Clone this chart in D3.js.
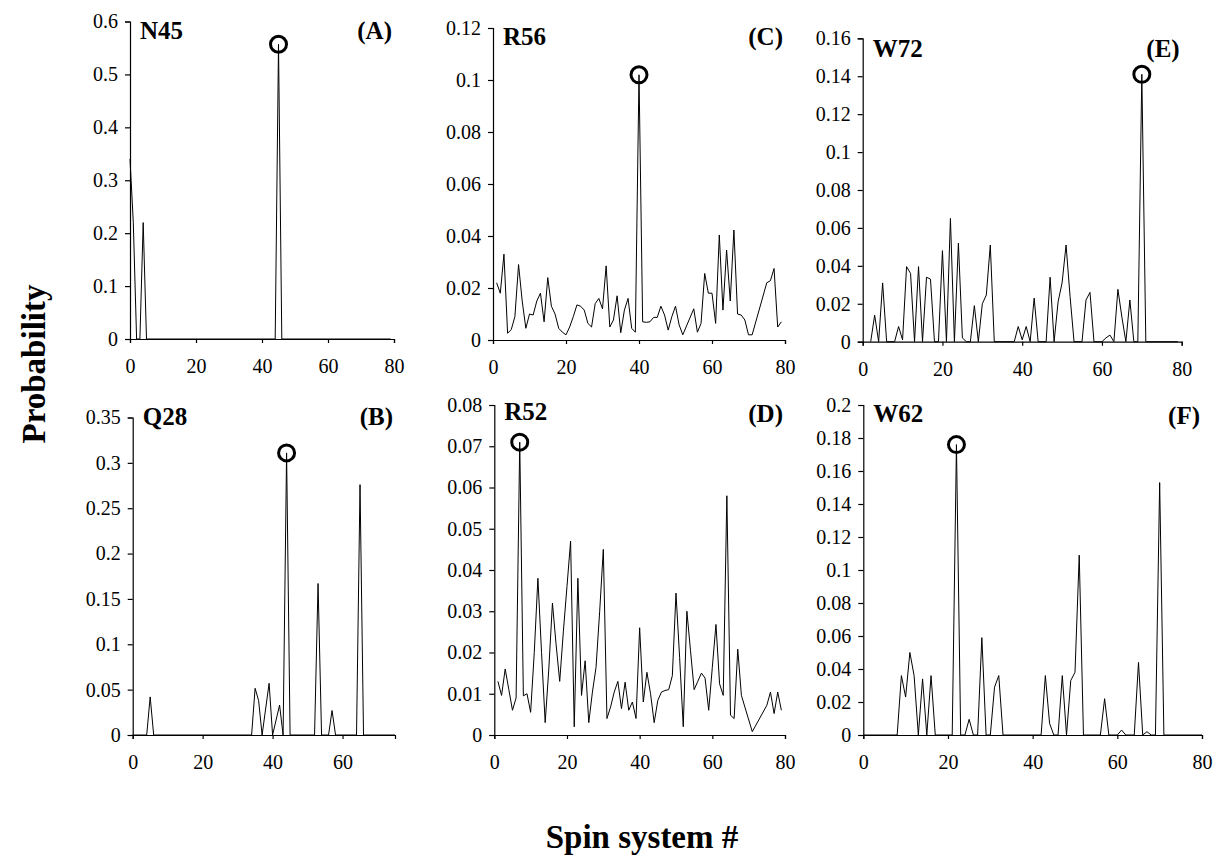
<!DOCTYPE html>
<head>
<meta charset="utf-8">
<script src="https://cdn.jsdelivr.net/npm/d3@7"></script>
<style>
body { margin: 0; background: #fff; }
text { font-family: "Liberation Serif", "Times New Roman", serif; }
.axis path, .axis line { stroke: #000; stroke-width: 1.2; }
.trace { fill: none; stroke: #000; stroke-width: 1; stroke-linejoin: miter; }
.ring { fill: none; stroke: #000; stroke-width: 3; }
.name { font-size: 25px; font-weight: bold; }
.title { font-size: 33px; font-weight: bold; }
</style>
</head>
<body>
<div id="chart"></div>
<script>

// --- data: spin system index (x) and probability (p), zero runs kept by their ends ---
const n45X = [0, 1, 2, 3, 4, 5, 44, 45, 46, 79];
const n45P = [0.34, 0.22, 0, 0, 0.22, 0, 0, 0.557, 0, 0];

const q28X = [0, 4, 5, 6, 34, 35, 36, 37, 39, 40, 42, 43, 44, 45, 52, 53, 54, 56, 57, 58, 64, 65, 66, 75];
const q28P = [0, 0, 0.042, 0, 0, 0.0515, 0.038, 0, 0.057, 0, 0.033, 0, 0.311, 0, 0, 0.167, 0, 0, 0.027, 0, 0, 0.276, 0, 0];

const r56X = [1, 2, 3, 4, 5, 6, 7, 8, 9, 10, 11, 12, 13, 14, 15, 16, 17, 18, 19, 20,
  21, 22, 23, 24, 25, 26, 27, 28, 29, 30, 31, 32, 33, 34, 35, 36, 37, 38, 39, 40,
  41, 42, 43, 44, 45, 46, 47, 48, 49, 50, 51, 52, 55, 56, 57, 58, 59, 60,
  61, 62, 63, 64, 65, 66, 67, 68, 69, 70, 71, 75, 76, 77, 78, 79];
const r56P = [0.022, 0.018, 0.033, 0.0026, 0.004, 0.009, 0.029, 0.015, 0.0045, 0.010,
  0.0096, 0.015, 0.018, 0.007, 0.024, 0.013, 0.010, 0.0045, 0.003, 0.002,
  0.005, 0.009, 0.0135, 0.013, 0.0115, 0.0064, 0.005, 0.014, 0.016, 0.012,
  0.0285, 0.005, 0.0077, 0.017, 0.0028, 0.0115, 0.016, 0.0045, 0.003, 0.102,
  0.007, 0.0068, 0.007, 0.0087, 0.0087, 0.013, 0.0096, 0.0038, 0.009, 0.013,
  0.0058, 0.002, 0.012, 0.003, 0.0064, 0.0256, 0.018, 0.018,
  0.0064, 0.0404, 0.0115, 0.0346, 0.015, 0.0423, 0.010, 0.0096, 0.0077, 0.002, 0.002,
  0.022, 0.0228, 0.0275, 0.005, 0.007];

const r52X = [1, 2, 3, 4, 5, 6, 7, 8, 9, 10, 11, 12, 13, 14, 15, 16, 17, 18, 19, 20,
  21, 22, 23, 24, 25, 26, 27, 28, 29, 30, 31, 32, 33, 34, 35, 36, 37, 38, 39, 40,
  41, 42, 43, 44, 45, 46, 47, 48, 49, 50, 51, 52, 53, 54, 55, 56, 57, 58, 59, 60,
  61, 62, 63, 64, 65, 66, 67, 68, 71, 75, 76, 77, 78, 79];
const r52P = [0.013, 0.0096, 0.016, 0.011, 0.006, 0.009, 0.071, 0.0095, 0.010, 0.0055,
  0.02, 0.038, 0.02, 0.003, 0.016, 0.032, 0.022, 0.013, 0.025, 0.036,
  0.047, 0.002, 0.038, 0.0096, 0.018, 0.003, 0.0104, 0.0164, 0.03, 0.045,
  0.004, 0.0068, 0.0104, 0.013, 0.0064, 0.0128, 0.006, 0.008, 0.004, 0.026,
  0.008, 0.0152, 0.01, 0.003, 0.0084, 0.0104, 0.0108, 0.011, 0.0144, 0.0344,
  0.0188, 0.002, 0.03, 0.0204, 0.011, 0.013, 0.015, 0.0138, 0.006, 0.0164,
  0.0268, 0.0124, 0.0096, 0.058, 0.0048, 0.004, 0.0208, 0.0096, 0.0008,
  0.0072, 0.0104, 0.0052, 0.0104, 0.006];

const w72X = [2, 3, 4, 5, 6, 8, 9, 10, 11, 12, 13, 14, 15, 16, 17, 18, 19, 20,
  21, 22, 23, 24, 25, 26, 27, 28, 29, 30, 31, 32, 33, 38, 39, 40,
  41, 42, 43, 44, 46, 47, 48, 49, 50, 51, 52, 53, 55, 56, 57, 58, 60,
  61, 62, 63, 64, 65, 66, 67, 68, 69, 70, 71, 79];
const w72P = [0, 0.014, 0, 0.031, 0, 0, 0.008, 0.001, 0.0396, 0.036, 0, 0.0396, 0, 0.034, 0.033, 0, 0, 0.048,
  0, 0.065, 0, 0.052, 0.002, 0, 0, 0.019, 0, 0.020, 0.0246, 0.051, 0, 0, 0.008, 0.001,
  0.008, 0, 0.023, 0, 0, 0.034, 0, 0.021, 0.031, 0.051, 0.024, 0, 0, 0.022, 0.026, 0, 0,
  0.002, 0.0035, 0, 0.0276, 0.013, 0, 0.022, 0, 0, 0.141, 0, 0];

const w62X = [0, 8, 9, 10, 11, 12, 13, 14, 15, 16, 17, 21, 22, 23, 24, 25, 26, 27, 28, 29, 30,
  31, 32, 33, 42, 43, 44, 45, 46, 47, 48, 49, 50, 51, 52, 56, 57, 58, 60,
  61, 62, 64, 65, 66, 67, 68, 69, 70, 71, 80];
const w62P = [0, 0, 0.036, 0.023, 0.050, 0.036, 0, 0.034, 0, 0.036, 0, 0, 0.176, 0, 0, 0.0095, 0, 0, 0.059, 0, 0,
  0.029, 0.036, 0, 0, 0.036, 0.007, 0, 0, 0.036, 0, 0.033, 0.038, 0.109, 0, 0, 0.022, 0, 0,
  0.003, 0, 0, 0.044, 0, 0.002, 0, 0, 0.153, 0, 0];

// tick labels
const xTicks80 = [0, 20, 40, 60, 80];
const xTicks75 = [0, 20, 40, 60];
const yTicksN45 = [0, 0.1, 0.2, 0.3, 0.4, 0.5, 0.6];
const yTicksQ28 = [0, 0.05, 0.1, 0.15, 0.2, 0.25, 0.3, 0.35];
const yTicksR56 = [0, 0.02, 0.04, 0.06, 0.08, 0.1, 0.12];
const yTicksR52 = [0, 0.01, 0.02, 0.03, 0.04, 0.05, 0.06, 0.07, 0.08];
const yTicksW72 = [0, 0.02, 0.04, 0.06, 0.08, 0.1, 0.12, 0.14, 0.16];
const yTicksW62 = [0, 0.02, 0.04, 0.06, 0.08, 0.1, 0.12, 0.14, 0.16, 0.18, 0.2];

// assigned (true) spin system, circled
const peaks = { N45: 45, Q28: 44, R56: 40, R52: 7, W72: 70, W62: 22 };

// --- layout ---
let panels = [
  {name: "N45", tag: "(A)", xs: n45X, ps: n45P, xMax: 80, xt: xTicks80, yt: yTicksN45,
   box: {l: 130, r: 394, t: 21.5, b: 339}, nameY: 39, tagY: 39},
  {name: "Q28", tag: "(B)", xs: q28X, ps: q28P, xMax: 75, xt: xTicks75, yt: yTicksQ28,
   box: {l: 132.7, r: 395, t: 417.5, b: 735}, nameY: 425, tagY: 425},
  {name: "R56", tag: "(C)", xs: r56X, ps: r56P, xMax: 80, xt: xTicks80, yt: yTicksR56,
   box: {l: 493, r: 785, t: 28, b: 340}, nameY: 45, tagY: 45},
  {name: "R52", tag: "(D)", xs: r52X, ps: r52P, xMax: 80, xt: xTicks80, yt: yTicksR52,
   box: {l: 494.3, r: 785, t: 405, b: 735}, nameY: 420, tagY: 422},
  {name: "W72", tag: "(E)", xs: w72X, ps: w72P, xMax: 80, xt: xTicks80, yt: yTicksW72,
   box: {l: 862.7, r: 1181.7, t: 38.3, b: 341.7}, nameY: 57, tagY: 57},
  {name: "W62", tag: "(F)", xs: w62X, ps: w62P, xMax: 80, xt: xTicks80, yt: yTicksW62,
   box: {l: 863.3, r: 1202, t: 405, b: 735}, nameY: 422, tagY: 424}
];

let fmt = d => d === 0 ? "0" : String(+d.toFixed(3));

// serif tick labels (d3 axis sets sans-serif on the group)
function serifTicks(sel) {
  sel.attr("font-family", null).attr("font-size", null);
  sel.selectAll(".tick text")
      .style("font-family", "'Liberation Serif', serif")
      .style("font-size", "20px")
      .attr("fill", "#000");
}

let svg = d3.select("#chart").append("svg")
    .attr("width", 1216)
    .attr("height", 859);

panels.forEach(function(p) {
  let x = d3.scaleLinear().domain([0, p.xMax]).range([p.box.l, p.box.r]),
      y = d3.scaleLinear().domain([0, p.yt[p.yt.length - 1]]).range([p.box.b, p.box.t]);

  let g = svg.append("g");

  g.append("g")
      .attr("class", "axis")
      .attr("transform", "translate(0," + p.box.b + ")")
      .call(d3.axisBottom(x).tickValues(p.xt).tickSize(4).tickSizeOuter(4).tickPadding(16).tickFormat(fmt))
      .call(serifTicks);

  g.append("g")
      .attr("class", "axis")
      .attr("transform", "translate(" + p.box.l + ",0)")
      .call(d3.axisLeft(y).tickValues(p.yt).tickSize(5).tickSizeOuter(5).tickPadding(7).tickFormat(fmt))
      .call(serifTicks);

  let pts = p.xs.map((d, i) => [d, p.ps[i]]);

  g.append("path")
      .attr("class", "trace")
      .attr("d", d3.line().x(d => x(d[0])).y(d => y(d[1]))(pts));

  let k = p.xs.indexOf(peaks[p.name]);
  g.append("circle")
      .attr("class", "ring")
      .attr("cx", x(p.xs[k]))
      .attr("cy", y(p.ps[k]))
      .attr("r", 8);

  g.append("text")
      .attr("class", "name")
      .attr("x", p.box.l + 10)
      .attr("y", p.nameY)
      .text(p.name);

  g.append("text")
      .attr("class", "name")
      .attr("text-anchor", "end")
      .attr("x", p.box.r - 2)
      .attr("y", p.tagY)
      .text(p.tag);
});

// axis titles
svg.append("text")
    .attr("class", "title")
    .attr("text-anchor", "middle")
    .attr("transform", "translate(45,364) rotate(-90)")
    .text("Probability");

svg.append("text")
    .attr("class", "title")
    .attr("text-anchor", "middle")
    .attr("x", 642)
    .attr("y", 848)
    .text("Spin system #");

</script>
</body>
